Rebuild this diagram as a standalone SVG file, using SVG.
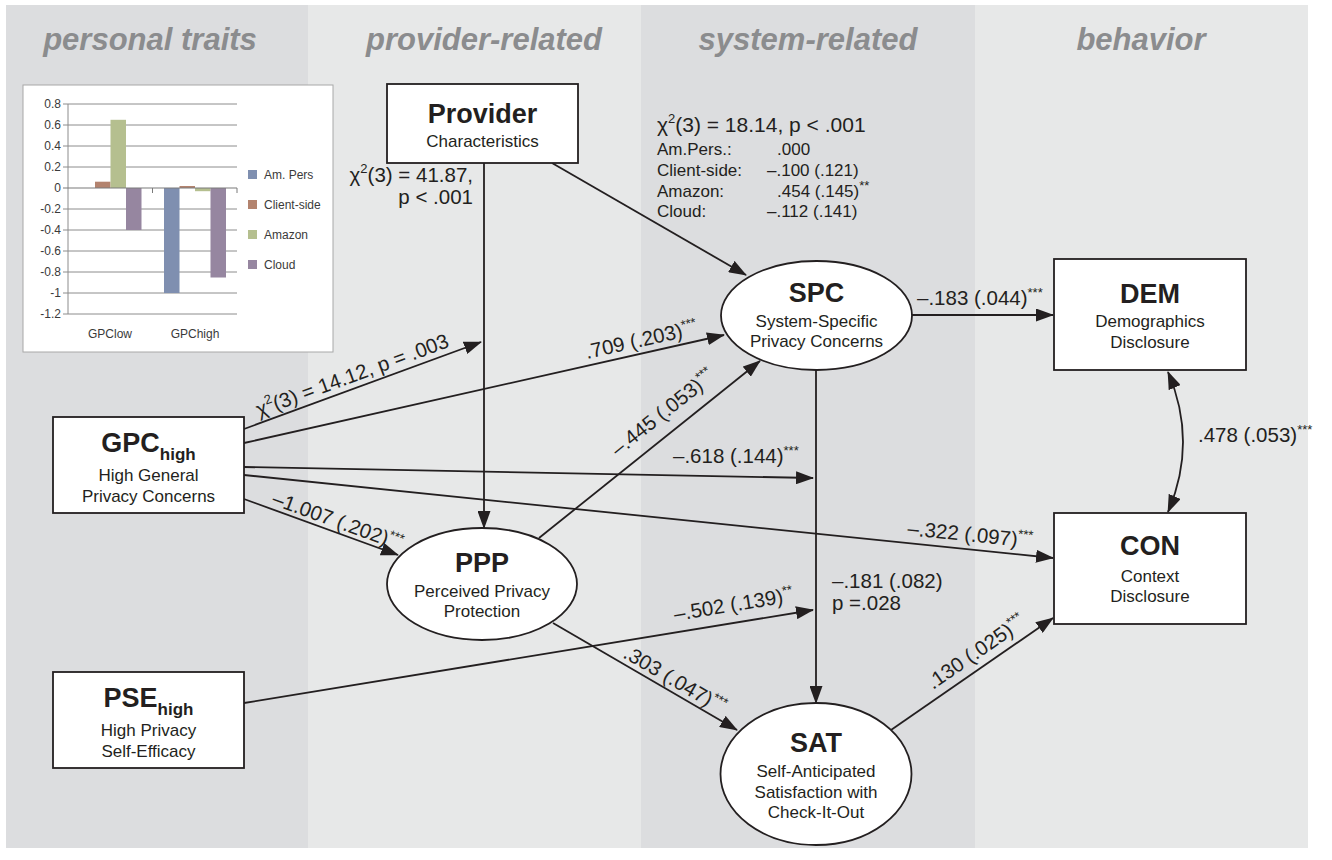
<svg xmlns="http://www.w3.org/2000/svg" width="1332" height="860" viewBox="0 0 1332 860">
<defs>
<marker id="ah" viewBox="0 0 18 13" refX="17" refY="6.5" markerWidth="18" markerHeight="13" markerUnits="userSpaceOnUse" orient="auto"><path d="M0,0 L18,6.5 L0,13 z" fill="#231f20"/></marker>
<marker id="ahs" viewBox="0 0 18 13" refX="17" refY="6.5" markerWidth="18" markerHeight="13" markerUnits="userSpaceOnUse" orient="auto-start-reverse"><path d="M0,0 L18,6.5 L0,13 z" fill="#231f20"/></marker>
</defs>
<style>
text{font-family:"Liberation Sans",Arial,Helvetica,sans-serif;fill:#231f20}
.hdr{font-size:31px;font-weight:bold;font-style:italic;fill:#8b8c8e;text-anchor:middle}
.nt{font-size:27px;font-weight:bold;text-anchor:middle}
.sub{font-size:17px;font-weight:bold}
.ns{font-size:17px;text-anchor:middle}
.lb{font-size:20.5px}
.st{font-size:17px}
.sup{font-size:13px}
.node{fill:#fff;stroke:#231f20;stroke-width:1.8}
.edge{fill:none;stroke:#231f20;stroke-width:1.8;marker-end:url(#ah)}
.grid{stroke:#8c8c8c;stroke-width:1}
.ax{font-size:12px;fill:#3a3a3a}
.axr{font-size:12px;fill:#3a3a3a;text-anchor:end}
</style>

<g id="bands">
<rect x="6" y="5" width="302" height="843" fill="#dcdddf"/>
<rect x="308" y="5" width="333" height="843" fill="#e7e8e8"/>
<rect x="641" y="5" width="334" height="843" fill="#dcdddf"/>
<rect x="975" y="5" width="333" height="843" fill="#e7e8e8"/>
<text class="hdr" x="150" y="50">personal traits</text>
<text class="hdr" x="484" y="50">provider-related</text>
<text class="hdr" x="808" y="50">system-related</text>
<text class="hdr" x="1141" y="50">behavior</text>
</g>

<g id="chart">
<rect x="23" y="85" width="310" height="267" fill="#fff" stroke="#a8a8a8" stroke-width="1"/>
<g class="grid">
<line x1="63" y1="104" x2="237" y2="104"/>
<line x1="63" y1="125" x2="237" y2="125"/>
<line x1="63" y1="146" x2="237" y2="146"/>
<line x1="63" y1="167" x2="237" y2="167"/>
<line x1="63" y1="209" x2="237" y2="209"/>
<line x1="63" y1="230" x2="237" y2="230"/>
<line x1="63" y1="251" x2="237" y2="251"/>
<line x1="63" y1="272" x2="237" y2="272"/>
<line x1="63" y1="293" x2="237" y2="293"/>
<line x1="63" y1="314" x2="237" y2="314"/>
<line x1="68" y1="104" x2="68" y2="314"/>
</g>
<rect x="95" y="181.7" width="15.5" height="6.3" fill="#b3836e"/>
<rect x="110.5" y="119.8" width="15.5" height="68.2" fill="#b5bf8f"/>
<rect x="126" y="188" width="15.5" height="42" fill="#9686a0"/>
<rect x="164" y="188" width="15.5" height="105" fill="#7f8fb0"/>
<rect x="179.5" y="186" width="15.5" height="2" fill="#b3836e"/>
<rect x="195" y="188" width="15.5" height="3.2" fill="#b5bf8f"/>
<rect x="210.5" y="188" width="15.5" height="89.5" fill="#9686a0"/>
<line x1="63" y1="188" x2="237" y2="188" stroke="#7a7a7a" stroke-width="1.2"/>
<line x1="152.5" y1="188" x2="152.5" y2="193" stroke="#7a7a7a"/>
<line x1="237" y1="188" x2="237" y2="193" stroke="#7a7a7a"/>
<text class="axr" x="61" y="108">0.8</text>
<text class="axr" x="61" y="129">0.6</text>
<text class="axr" x="61" y="150">0.4</text>
<text class="axr" x="61" y="171">0.2</text>
<text class="axr" x="61" y="192">0</text>
<text class="axr" x="61" y="213">-0.2</text>
<text class="axr" x="61" y="234">-0.4</text>
<text class="axr" x="61" y="255">-0.6</text>
<text class="axr" x="61" y="276">-0.8</text>
<text class="axr" x="61" y="297">-1</text>
<text class="axr" x="61" y="318">-1.2</text>
<text class="ax" x="110" y="338" text-anchor="middle">GPClow</text>
<text class="ax" x="195" y="338" text-anchor="middle">GPChigh</text>
<rect x="248" y="170" width="9" height="9" fill="#7f8fb0"/>
<rect x="248" y="200" width="9" height="9" fill="#b3836e"/>
<rect x="248" y="230" width="9" height="9" fill="#b5bf8f"/>
<rect x="248" y="260" width="9" height="9" fill="#9686a0"/>
<text class="ax" x="264" y="179">Am. Pers</text>
<text class="ax" x="264" y="209">Client-side</text>
<text class="ax" x="264" y="239">Amazon</text>
<text class="ax" x="264" y="269">Cloud</text>
</g>

<g id="connectors">
<path class="edge" d="M484,163 L484,528"/>
<path class="edge" d="M552,163 L746,275"/>
<path class="edge" d="M244,429 L481,342"/>
<path class="edge" d="M244,443 L724,335"/>
<path class="edge" d="M244,467 L813,478"/>
<path class="edge" d="M244,475 L1053,558"/>
<path class="edge" d="M244,499 L398,555"/>
<path class="edge" d="M244,703 L813,610"/>
<path class="edge" d="M539,538 L760,361"/>
<path class="edge" d="M553,623 L737,730"/>
<path class="edge" d="M816,370 L816,703"/>
<path class="edge" d="M912,315 L1053,315"/>
<path class="edge" d="M891,730 L1053,618"/>
<path class="edge" style="marker-start:url(#ahs)" d="M1168,372 Q1198,442 1168,512"/>

<text class="lb" x="473" y="182" text-anchor="end">χ<tspan class="sup" dy="-9">2</tspan><tspan dy="9">(3) = 41.87,</tspan></text>
<text class="lb" x="473" y="204" text-anchor="end">p &lt; .001</text>

<text class="lb" transform="translate(259,417) rotate(-20.2)">χ<tspan class="sup" dy="-9">2</tspan><tspan dy="9">(3) = 14.12, p = .003</tspan></text>
<text class="lb" transform="translate(587,359) rotate(-12.65)">.709 (.203)<tspan class="sup" dy="-8">***</tspan></text>
<text class="lb" x="673" y="463">–.618 (.144)<tspan class="sup" dy="-8">***</tspan></text>
<text class="lb" transform="translate(907,535) rotate(5.86)">–.322 (.097)<tspan class="sup" dy="-8">***</tspan></text>
<text class="lb" transform="translate(271,504) rotate(20)">–1.007 (.202)<tspan class="sup" dy="-8">***</tspan></text>
<text class="lb" transform="translate(675,621) rotate(-9.3)">–.502 (.139)<tspan class="sup" dy="-8">**</tspan></text>
<text class="lb" transform="translate(618,457) rotate(-38.6)">–.445 (.053)<tspan class="sup" dy="-8">***</tspan></text>
<text class="lb" transform="translate(622,657) rotate(30.2)">.303 (.047)<tspan class="sup" dy="-8">***</tspan></text>
<text class="lb" transform="translate(933,690) rotate(-34.7)">.130 (.025)<tspan class="sup" dy="-8">***</tspan></text>
<text class="lb" x="917" y="305">–.183 (.044)<tspan class="sup" dy="-8">***</tspan></text>
<text class="lb" x="832" y="588">–.181 (.082)</text>
<text class="lb" x="832" y="610">p =.028</text>
<text class="lb" x="1198" y="442">.478 (.053)<tspan class="sup" dy="-8">***</tspan></text>

<text class="lb" x="657" y="132" style="font-size:21px">χ<tspan class="sup" dy="-9">2</tspan><tspan dy="9">(3) = 18.14, p &lt; .001</tspan></text>
<text class="st" x="657" y="155">Am.Pers.:</text>
<text class="st" x="777" y="155">.000</text>
<text class="st" x="657" y="176">Client-side:</text>
<text class="st" x="767" y="176">–.100 (.121)</text>
<text class="st" x="657" y="197">Amazon:</text>
<text class="st" x="777" y="197">.454 (.145)<tspan class="sup" dy="-7">**</tspan></text>
<text class="st" x="657" y="217">Cloud:</text>
<text class="st" x="767" y="217">–.112 (.141)</text>
</g>

<g id="provider">
<rect class="node" x="387" y="84" width="191" height="79"/>
<text class="nt" x="482.5" y="123">Provider</text>
<text class="ns" x="482.5" y="147">Characteristics</text>
</g>

<g id="gpc">
<rect class="node" x="53" y="417" width="191" height="96"/>
<text class="nt" x="148.5" y="452">GPC<tspan class="sub" dy="8">high</tspan></text>
<text class="ns" x="148.5" y="481">High General</text>
<text class="ns" x="148.5" y="502">Privacy Concerns</text>
</g>

<g id="pse">
<rect class="node" x="53" y="672" width="191" height="96"/>
<text class="nt" x="148.5" y="707">PSE<tspan class="sub" dy="8">high</tspan></text>
<text class="ns" x="148.5" y="736">High Privacy</text>
<text class="ns" x="148.5" y="757">Self-Efficacy</text>
</g>

<g id="ppp">
<ellipse class="node" cx="482" cy="584" rx="95" ry="56"/>
<text class="nt" x="482" y="572">PPP</text>
<text class="ns" x="482" y="597">Perceived Privacy</text>
<text class="ns" x="482" y="617">Protection</text>
</g>

<g id="spc">
<ellipse class="node" cx="816.5" cy="315.5" rx="95.5" ry="54.5"/>
<text class="nt" x="816.5" y="302">SPC</text>
<text class="ns" x="816.5" y="327">System-Specific</text>
<text class="ns" x="816.5" y="347">Privacy Concerns</text>
</g>

<g id="sat">
<ellipse class="node" cx="816" cy="774" rx="95.5" ry="71"/>
<text class="nt" x="816" y="752">SAT</text>
<text class="ns" x="816" y="777">Self-Anticipated</text>
<text class="ns" x="816" y="798">Satisfaction with</text>
<text class="ns" x="816" y="818">Check-It-Out</text>
</g>

<g id="dem">
<rect class="node" x="1054" y="259" width="192" height="111"/>
<text class="nt" x="1150" y="303">DEM</text>
<text class="ns" x="1150" y="327">Demographics</text>
<text class="ns" x="1150" y="348">Disclosure</text>
</g>

<g id="con">
<rect class="node" x="1054" y="513" width="192" height="111"/>
<text class="nt" x="1150" y="555">CON</text>
<text class="ns" x="1150" y="582">Context</text>
<text class="ns" x="1150" y="602">Disclosure</text>
</g>
</svg>
